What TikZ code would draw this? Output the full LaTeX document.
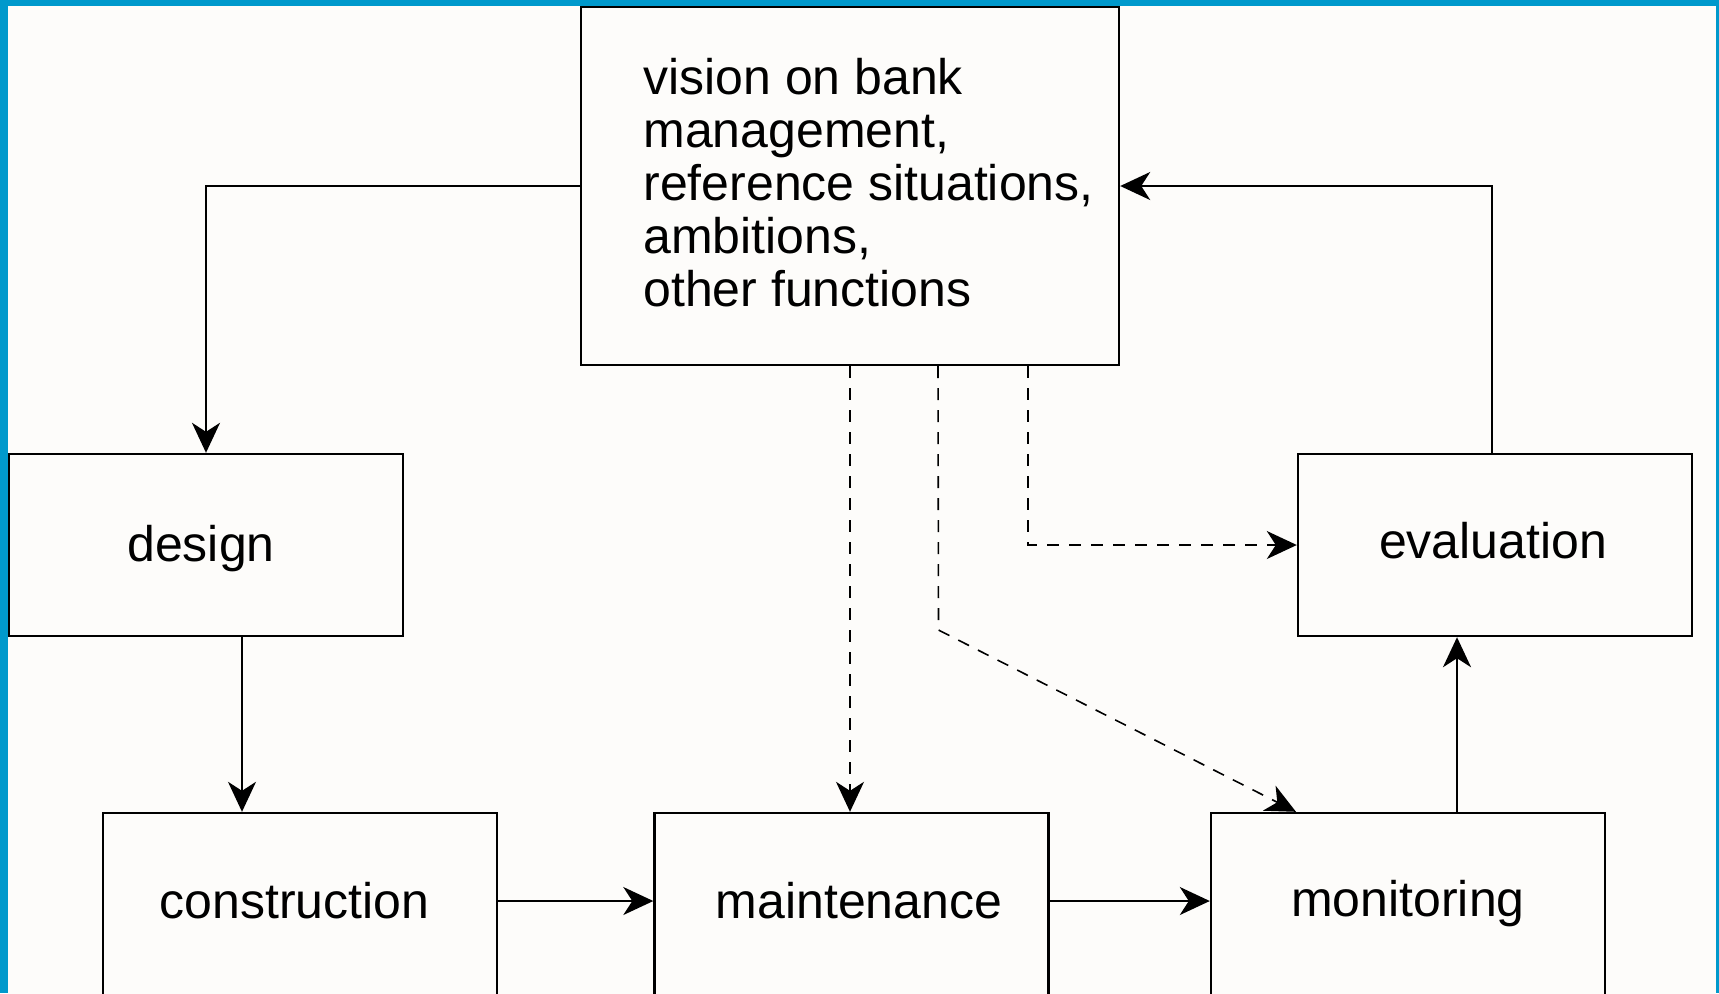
\documentclass[tikz,border=0pt]{standalone}
\usepackage{fontspec}
\setmainfont{Liberation Sans}
\usetikzlibrary{arrows.meta}
\definecolor{frameblue}{HTML}{0099CC}
\definecolor{paper}{HTML}{FDFCFA}
\begin{document}
\begin{tikzpicture}[x=0.5pt,y=-0.5pt,
  box/.style={draw, line width=1.2pt, inner sep=0pt, minimum width=197pt, minimum height=91pt},
  lbl/.style={inner sep=0pt, font=\fontsize{25pt}{26.5pt}\selectfont},
  arr/.style={line width=0.8pt, -{Stealth[length=15pt,width=14pt,inset=4.5pt]}},
  dasharr/.style={arr, dash pattern=on 6pt off 5pt}
]
\useasboundingbox (0,0) rectangle (1719,993);
\clip (0,0) rectangle (1719,993);
\fill[frameblue] (0,0) rectangle (1719,993);
\fill[paper] (8,6) rectangle (1716,1000);

\node[box, minimum width=269pt, minimum height=179pt] (top) at (850,186) {};
\node[lbl, anchor=west, align=left] (toptext) at (643,182.5)
  {vision on bank\\management,\\reference situations,\\ambitions,\\other functions};

\node[box] (design) at (206,545) {};
\node[box] (evaluation) at (1495,545) {};
\node[box] (construction) at (300,904) {};
\node[box] (maintenance) at (851.5,904) {};
\node[box] (monitoring) at (1408,904) {};

\node[lbl] (designtext) at (201,549) {design};
\node[lbl] (evaluationtext) at (1493,540.5) {evaluation};
\node[lbl] (constructiontext) at (294.5,900.5) {construction};
\node[lbl] (maintenancetext) at (859,900.5) {maintenance};
\node[lbl] (monitoringtext) at (1408,904) {monitoring};

\draw[arr, line width=1.1pt] (top.west) -| (design.north);
\draw[arr] ([xshift=18pt]design.south) -- ([xshift=18pt]design.south |- construction.north);
\draw[arr] ([yshift=1.5pt]construction.east) -- ([yshift=1.5pt]maintenance.west);
\draw[arr] ([yshift=1.5pt]maintenance.east) -- ([yshift=1.5pt]monitoring.west);
\draw[arr, line width=1.2pt] ([xshift=24.5pt]monitoring.north) -- ([xshift=24.5pt]monitoring.north |- evaluation.south);
\draw[arr, line width=1.1pt] ([xshift=-1.5pt]evaluation.north) |- (top.east);

\coordinate (bend) at (938.5,630);
\draw[dasharr] (top.south) -- (top.south |- maintenance.north);
\draw[dasharr] ([xshift=44pt]top.south) -- (bend) -- ([xshift=-56pt]monitoring.north);
\draw[dasharr] ([xshift=89pt]top.south) |- (evaluation.west);
\end{tikzpicture}
\end{document}
